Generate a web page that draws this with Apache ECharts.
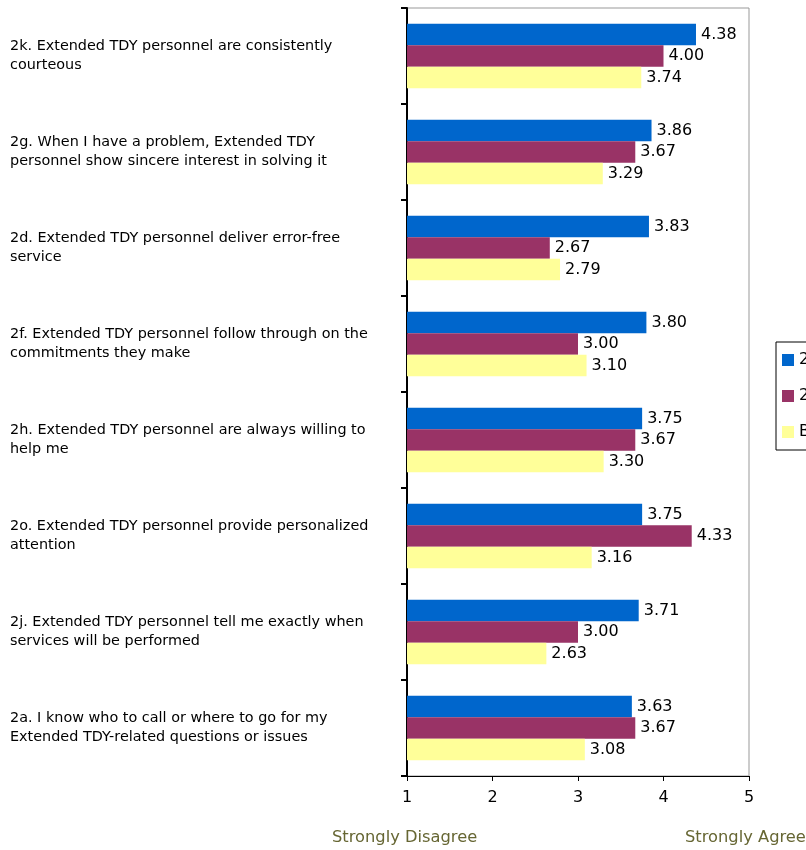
<!DOCTYPE html>
<html>
<head>
<meta charset="utf-8">
<script src="https://cdn.jsdelivr.net/npm/echarts@6/dist/echarts.min.js"></script>
<style>html,body{margin:0;padding:0;background:#fff}#c{width:806px;height:850px}</style>
</head>
<body>
<div id="c"></div>
<script>
var categories = [
  "2k. Extended TDY personnel are consistently\ncourteous",
  "2g. When I have a problem, Extended TDY\npersonnel show sincere interest in solving it",
  "2d. Extended TDY personnel deliver error-free\nservice",
  "2f. Extended TDY personnel follow through on the\ncommitments they make",
  "2h. Extended TDY personnel are always willing to\nhelp me",
  "2o. Extended TDY personnel provide personalized\nattention",
  "2j. Extended TDY personnel tell me exactly when\nservices will be performed",
  "2a. I know who to call or where to go for my\nExtended TDY-related questions or issues"
];
var seriesNames = ["2007", "2006", "Benchmark"];
var values2007 = [4.38, 3.86, 3.83, 3.80, 3.75, 3.75, 3.71, 3.63];
var values2006 = [4.00, 3.67, 2.67, 3.00, 3.67, 4.33, 3.00, 3.67];
var valuesBench = [3.74, 3.29, 2.79, 3.10, 3.30, 3.16, 2.63, 3.08];
var xTicks = [1, 2, 3, 4, 5];
var scaleLabels = ["Strongly Disagree", "Strongly Agree"];

var FONT = '"DejaVu Sans", Arial, sans-serif';
var colors = ["#0066CC", "#993366", "#FFFF99"];
var chart = echarts.init(document.getElementById('c'), null, {renderer: 'canvas'});
function mk(name, data, color) {
  return {
    name: name, type: 'bar', data: data,
    barGap: '0%', barCategoryGap: '33%',
    itemStyle: {color: color},
    label: {show: true, position: 'right', distance: 5,
      formatter: function(p){ return p.value.toFixed(2); },
      fontFamily: FONT, fontSize: 16, color: '#000'},
    emphasis: {disabled: true}, animation: false
  };
}
chart.setOption({
  animation: false,
  color: colors,
  grid: {left: 407, right: 57, top: 8, bottom: 74, show: true, borderColor: '#999', borderWidth: 1, containLabel: false},
  legend: {
    orient: 'vertical', left: 776, top: 342,
    itemWidth: 12, itemHeight: 12, itemGap: 20,
    borderColor: '#000', borderWidth: 1, padding: [10, 6, 10, 6],
    icon: 'rect',
    textStyle: {fontFamily: FONT, fontSize: 16, color: '#000'},
    data: seriesNames
  },
  xAxis: {
    type: 'value', min: xTicks[0], max: xTicks[xTicks.length-1], interval: 1,
    axisLine: {show: true, lineStyle: {color: '#000', width: 1}},
    axisTick: {show: true, length: 5, lineStyle: {color: '#000'}},
    splitLine: {show: false},
    axisLabel: {margin: 14, fontFamily: FONT, fontSize: 16, color: '#000'}
  },
  yAxis: {
    type: 'category', inverse: true, data: categories,
    axisLine: {show: true, lineStyle: {color: '#000', width: 2}},
    axisTick: {show: true, length: 6, lineStyle: {color: '#000', width: 2}},
    axisLabel: {align: 'left', margin: 397, fontFamily: FONT, fontSize: 14.4, lineHeight: 19, color: '#000'}
  },
  graphic: [
    {type: 'text', left: 332, top: 830, style: {text: scaleLabels[0], font: '16.3px ' + FONT, fill: '#666633'}},
    {type: 'text', left: 685, top: 830, style: {text: scaleLabels[1], font: '16.3px ' + FONT, fill: '#666633'}}
  ],
  series: [
    mk(seriesNames[0], values2007, colors[0]),
    mk(seriesNames[1], values2006, colors[1]),
    mk(seriesNames[2], valuesBench, colors[2])
  ]
});
</script>
</body>
</html>
